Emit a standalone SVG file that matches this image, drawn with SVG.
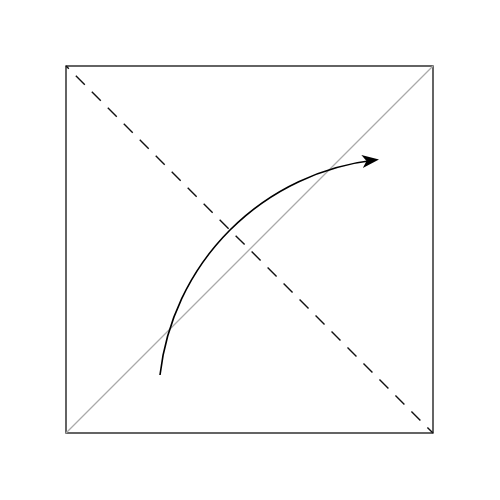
<svg xmlns="http://www.w3.org/2000/svg" width="500" height="500" viewBox="0 0 500 500">
  <defs>
    <style>
      .frame { fill: none; stroke: #111; stroke-width: 1.3; }
      .diag-gray { fill: none; stroke: #aaaaaa; stroke-width: 1.3; }
      .diag-dash { fill: none; stroke: #111; stroke-width: 1.4; stroke-dasharray: 12.7 9.9; stroke-dashoffset: 8.7; }
      .curve { fill: none; stroke: #000; stroke-width: 1.6; }
    </style>
    <marker id="arrow" markerUnits="userSpaceOnUse" markerWidth="22" markerHeight="18" viewBox="0 -9 22 18" refX="13" refY="0" orient="auto">
      <path d="M0,-6.5 L17,0 L0,6.5 L4.5,0 z" fill="#000"/>
    </marker>
  </defs>
  <rect x="0" y="0" width="500" height="500" fill="#fff"/>
  <g id="frame">
    <rect class="frame" x="66" y="66" width="367" height="367"/>
  </g>
  <g id="connectors">
    <line class="diag-gray" x1="66" y1="433" x2="433" y2="66"/>
    <line class="diag-dash" x1="66" y1="66" x2="433" y2="433"/>
    <path class="curve" d="M160,375 A244.4,244.4 0 0 1 375,160" marker-end="url(#arrow)"/>
  </g>
</svg>
